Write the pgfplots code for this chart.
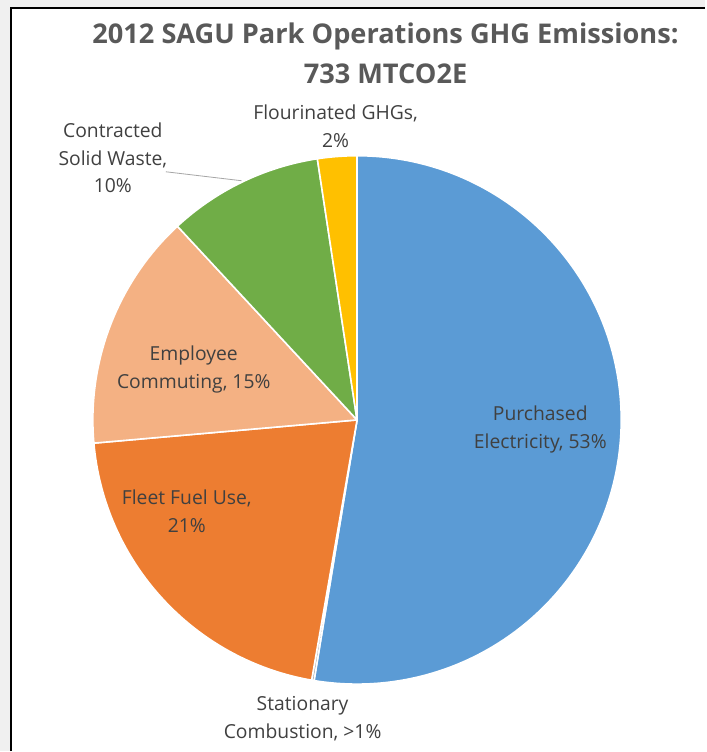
\documentclass[border=0pt]{standalone}
\usepackage{pgfplots}
\usepackage{pgfplotstable}
\pgfplotsset{compat=1.18}
\usepackage{fontspec}
\setmainfont{Open Sans}
\definecolor{cElec}{HTML}{5B9BD5}
\definecolor{cStat}{HTML}{A5A5A5}
\definecolor{cFleet}{HTML}{ED7D31}
\definecolor{cComm}{HTML}{F4B183}
\definecolor{cWaste}{HTML}{70AD47}
\definecolor{cFluor}{HTML}{FFC000}
\definecolor{titlegray}{HTML}{595959}
\definecolor{labgray}{HTML}{404040}
\definecolor{bggray}{HTML}{F0F0F0}
\pgfplotstableread{
name value color
Electricity 52.6 cElec
Stationary 0.15 cStat
Fleet 20.85 cFleet
Commuting 14.5 cComm
Waste 9.5 cWaste
Fluorinated 2.4 cFluor
}\piedata
\begin{document}
\begin{tikzpicture}
\begin{axis}[
  width=529.5pt, height=564pt, scale only axis,
  xmin=0, xmax=706, ymin=0, ymax=752,
  hide axis, clip=false]
\fill[bggray] (axis cs:0,0) rectangle (axis cs:706,752);
\fill[white] (axis cs:11,0) rectangle (axis cs:706,743.5);
\draw[black, line width=1.5pt] (axis cs:11,0) -- (axis cs:11,743.5) -- (axis cs:706,743.5);
\pgfplotstablegetrowsof{\piedata}
\pgfmathtruncatemacro\nrows{\pgfplotsretval-1}
\def\cum{0}
\pgfplotsforeachungrouped \i in {0,...,\nrows}{%
  \pgfplotstablegetelem{\i}{value}\of\piedata \let\v\pgfplotsretval
  \pgfplotstablegetelem{\i}{color}\of\piedata \let\col\pgfplotsretval
  \pgfmathsetmacro\aA{90-3.6*\cum}%
  \pgfmathsetmacro\cum{\cum+\v}%
  \pgfmathsetmacro\aB{90-3.6*\cum}%
  \edef\doit{\noexpand\fill[fill=\col, draw=white, line width=1.2pt, line join=round] (axis cs:357.5,331.5) -- ++(\aA:198.4pt) arc[start angle=\aA, end angle=\aB, radius=198.4pt] -- cycle;}%
  \doit
}
% title
\node[align=center, text=titlegray, font=\fontsize{20.4}{30}\selectfont\bfseries] at (axis cs:386,699) {2012 SAGU Park Operations GHG Emissions:\\733 MTCO2E};
% labels
\tikzset{lab/.style={align=center, text=labgray, font=\fontsize{14.5}{21}\selectfont}}
\node[lab] at (axis cs:336,625.5) {Flourinated GHGs,\\2\%};
\node[lab] at (axis cs:113,594) {Contracted\\Solid Waste,\\10\%};
\draw[gray!70, line width=0.6pt] (axis cs:166,580) -- (axis cs:242,571);
\node[lab] at (axis cs:194,382) {Employee\\Commuting, 15\%};
\node[lab] at (axis cs:541,322) {Purchased\\Electricity, 53\%};
\node[lab] at (axis cs:187,240) {Fleet Fuel Use,\\21\%};
\node[lab] at (axis cs:303,32) {Stationary\\Combustion, >1\%};
\end{axis}
\end{tikzpicture}
\end{document}
